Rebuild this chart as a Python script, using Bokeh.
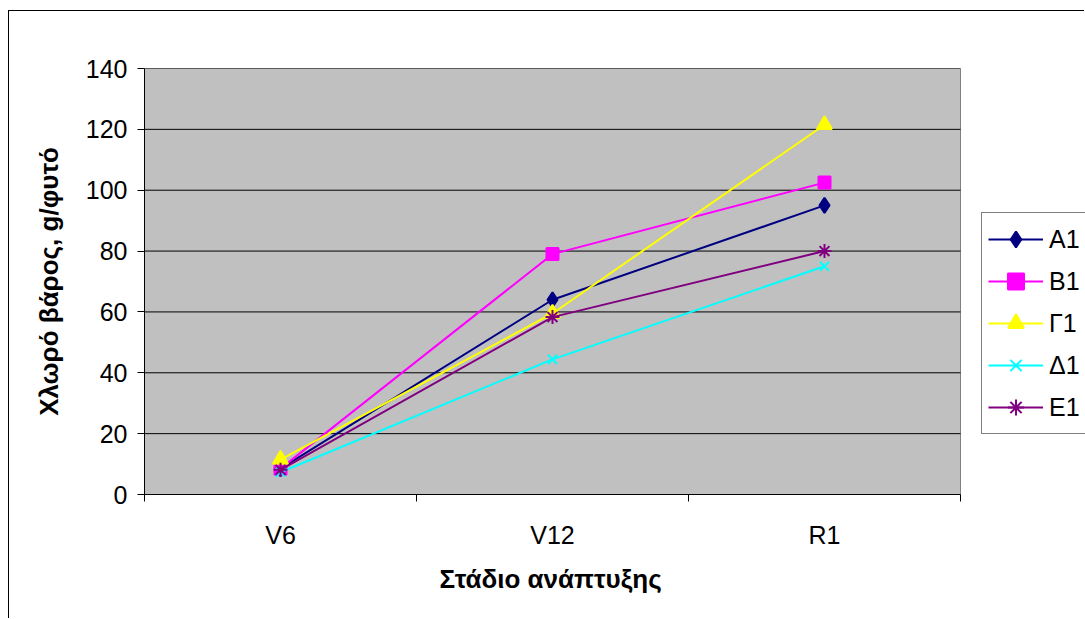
from bokeh.plotting import figure
from bokeh.models import FixedTicker, Legend, Title
from bokeh.embed import file_html
from bokeh.resources import INLINE

stages = ["V6", "V12", "R1"]
series_names = ["Α1", "Β1", "Γ1", "Δ1", "Ε1"]
a1 = [8.5, 64.0, 95.0]
b1 = [8.5, 79.0, 102.5]
g1 = [11.5, 59.5, 121.5]
d1 = [7.3, 44.4, 75.0]
e1 = [8.1, 58.3, 80.0]
y_ticks = [0, 20, 40, 60, 80, 100, 120, 140]
x_title = "Στάδιο ανάπτυξης"
y_title = "Χλωρό βάρος, g/φυτό"

series_values = [a1, b1, g1, d1, e1]
colors = ["#000080", "#FF00FF", "#FFFF00", "#00FFFF", "#800080"]
markers = ["diamond", "square", "triangle", "x", "asterisk"]
sizes = [15, 12, 15, 13, 14]

n = len(stages)
xs = [i + 0.5 for i in range(n)]
y_min, y_max = y_ticks[0], y_ticks[-1]
FONT = "Liberation Sans"
FS = "25px"
TFS = "26px"

# layout (pixels)
W, H = 1076, 608
LEFT, TOP, BOTTOM = 135, 57, 125
PLOT_W = 816                      # width of the grey plot area
FRAME_W = W - LEFT                # frame extends to the right edge (legend lives there)
x_end = n * FRAME_W / PLOT_W

p = figure(width=W, height=H, output_backend="svg", toolbar_location=None,
           x_range=(0, x_end), y_range=(y_min, y_max),
           min_border_left=LEFT, min_border_right=0, min_border_top=TOP, min_border_bottom=BOTTOM)
p.styles = {"margin-left": "8px", "margin-top": "10px",
            "border-left": "1px solid black", "border-top": "1px solid black"}
p.background_fill_color = "white"
p.border_fill_color = "white"
p.outline_line_color = None
p.xgrid.visible = False
p.ygrid.visible = False

# grey plot area and horizontal grid lines
p.quad(left=[0], right=[n], bottom=[y_min], top=[y_max],
       fill_color="#C0C0C0", line_color="#808080", line_width=1)
p.segment(x0=[0] * len(y_ticks), x1=[n] * len(y_ticks), y0=y_ticks, y1=y_ticks,
          line_color="black", line_width=1)

# x axis
p.xaxis.bounds = (0, n)
p.xaxis.ticker = FixedTicker(ticks=xs, minor_ticks=list(range(n + 1)))
p.xaxis.major_label_overrides = {x: s for x, s in zip(xs, stages)}
p.xaxis.major_tick_out = 0
p.xaxis.major_tick_in = 0
p.xaxis.minor_tick_out = 7
p.xaxis.minor_tick_in = 0
p.xaxis.minor_tick_line_color = "black"
p.xaxis.axis_line_color = "black"
p.xaxis.major_label_text_font = FONT
p.xaxis.major_label_text_font_size = FS
p.xaxis.major_label_text_color = "black"
p.xaxis.major_label_standoff = 19

# x title, centred under the grey plot area
xt = Title(text=x_title, align="left", offset=295, standoff=20,
           text_font=FONT, text_font_size=TFS, text_font_style="bold", text_color="black")
p.add_layout(xt, "below")

# y axis
p.yaxis.ticker = FixedTicker(ticks=y_ticks, minor_ticks=[])
p.yaxis.major_tick_out = 7
p.yaxis.major_tick_in = 0
p.yaxis.major_tick_line_color = "black"
p.yaxis.axis_line_color = "black"
p.yaxis.major_label_text_font = FONT
p.yaxis.major_label_text_font_size = FS
p.yaxis.major_label_text_color = "black"
p.yaxis.major_label_standoff = 10
p.yaxis.axis_label = y_title
p.yaxis.axis_label_text_font = FONT
p.yaxis.axis_label_text_font_size = TFS
p.yaxis.axis_label_text_font_style = "bold"
p.yaxis.axis_label_text_color = "black"
p.yaxis.axis_label_standoff = 19

items = []
for name, vals, c, m, s in zip(series_names, series_values, colors, markers, sizes):
    r1 = p.line(xs, vals, line_color=c, line_width=2)
    r2 = p.scatter(xs, vals, marker=m, size=s, fill_color=c, line_color=c, line_width=2)
    items.append((name, [r1, r2]))

legend = Legend(items=items, location=(PLOT_W + 21, 60))
legend.border_line_color = "black"
legend.border_line_width = 1
legend.background_fill_color = "white"
legend.background_fill_alpha = 1
legend.label_text_font = FONT
legend.label_text_font_size = FS
legend.label_text_color = "black"
legend.glyph_width = 55
legend.glyph_height = 40
legend.label_height = 40
legend.spacing = 2
legend.padding = 6
legend.margin = 0
legend.label_standoff = 6
p.add_layout(legend, "center")

open("out.html", "w").write(file_html(p, INLINE))
